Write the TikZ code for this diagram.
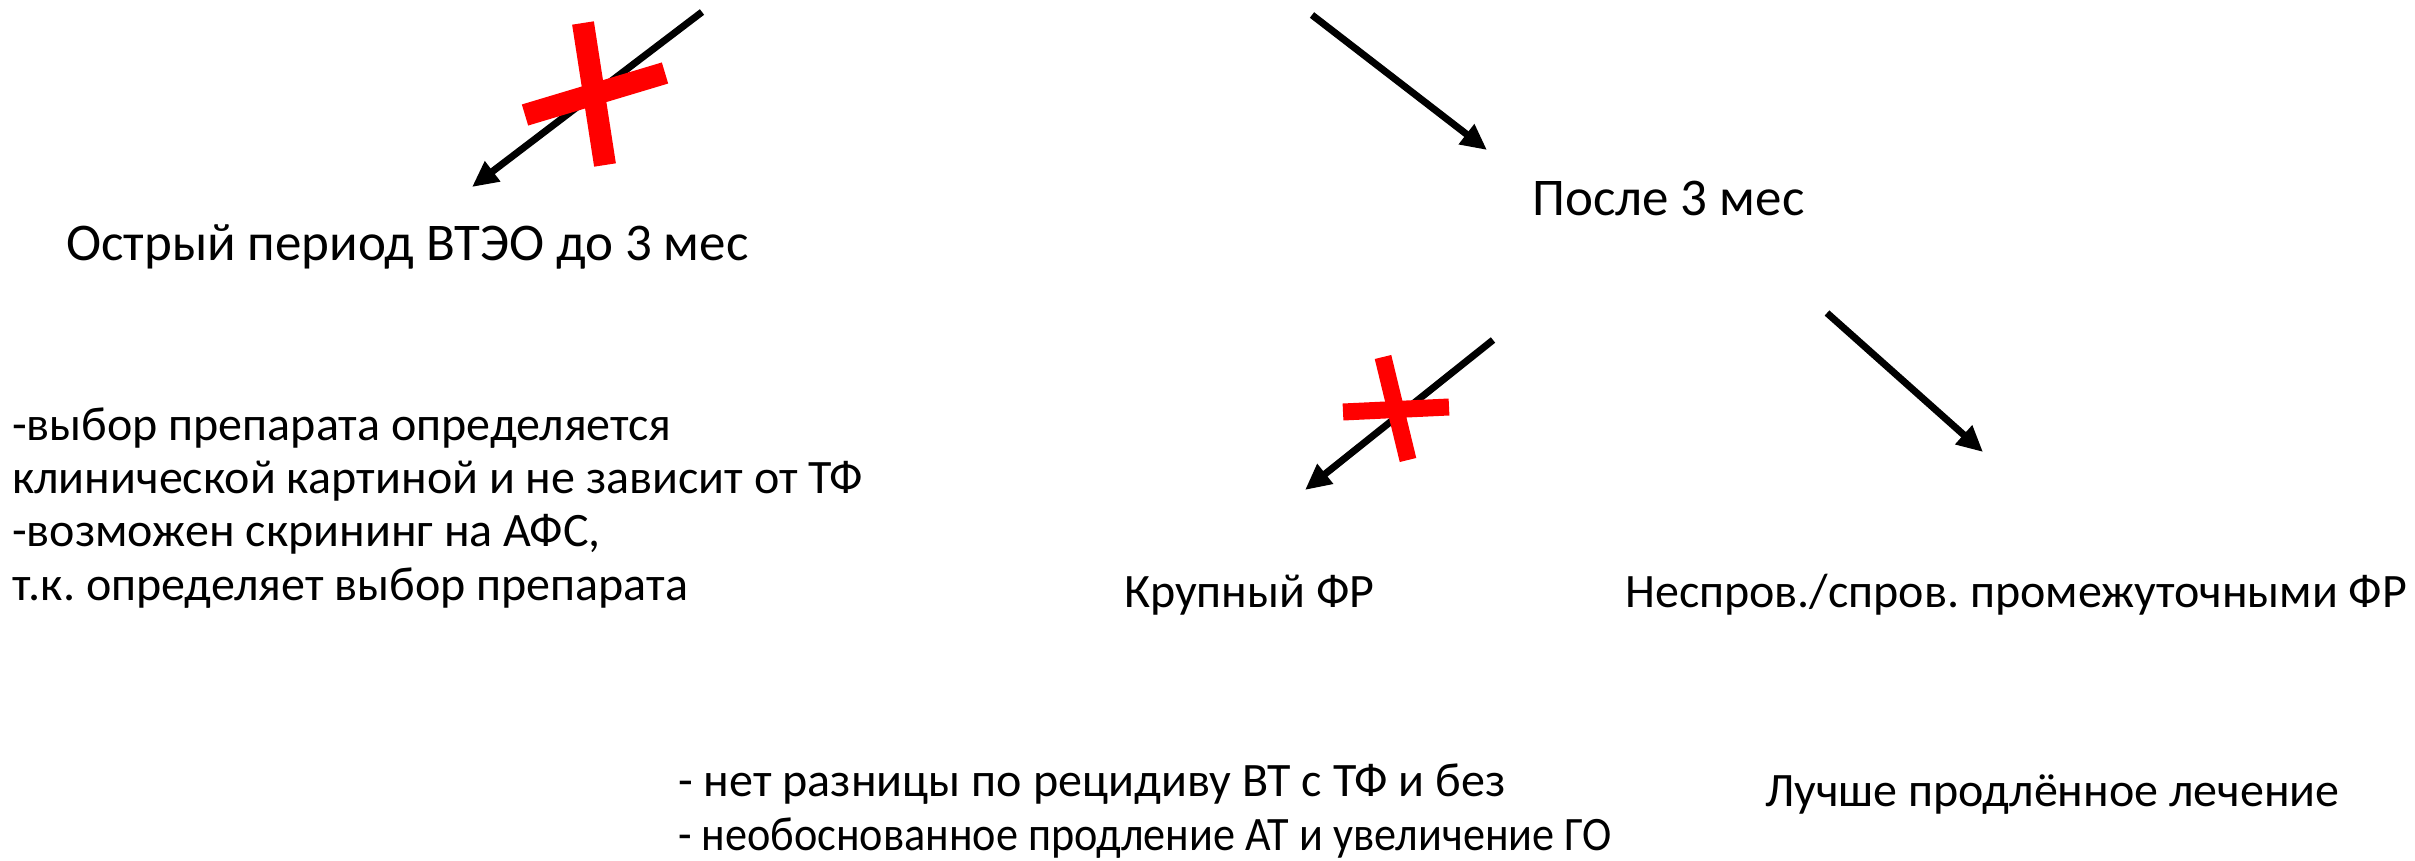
\documentclass[tikz,border=0pt]{standalone}
\usepackage{graphicx}
\usepackage{fontspec}
\setmainfont{Carlito}
\usetikzlibrary{arrows.meta}
\newdimen\fitlen
\newcommand\fitto[2]{\settowidth\fitlen{#2}\scalebox{\fpeval{#1/\fitlen}}[1]{#2}}
\frenchspacing
\begin{document}
\begin{tikzpicture}[x=1pt,y=-1pt,
  arr/.style={line width=7pt,-{Triangle[length=26pt,width=24pt]}},
  xbar/.style={draw=red,line width=22pt},
  xbarthin/.style={draw=red,line width=17pt},
  ttl/.style={anchor=base west,inner sep=0pt,font=\fontsize{53}{62}\selectfont},
  txt/.style={anchor=base west,inner sep=0pt,font=\fontsize{48}{56}\selectfont}]
\useasboundingbox (0,0) rectangle (2415,861);
% texts
\node[ttl] (acute) at (66,260) {Острый период ВТЭО до 3 мес};
\node[ttl] (after) at (1532,215) {После 3 мес};
\node[txt] (left1) at (12,440) {-выбор препарата определяется};
\node[txt] (left2) at (12,493.4) {клинической картиной и не зависит от ТФ};
\node[txt] (left3) at (12,546.8) {-возможен скрининг на АФС,};
\node[txt] (left4) at (12,600.2) {т.к. определяет выбор препарата};
\node[txt] (major) at (1124,607) {Крупный ФР};
\node[txt] (minor) at (1625,607) {Неспров./спров. промежуточными ФР};
\node[txt] (noDiff) at (678,796) {\fitto{827}{- нет разницы по рецидиву ВТ с ТФ и без}};
\node[txt] (extend) at (678,850) {\fitto{933}{- необоснованное продление АТ и увеличение ГО}};
\node[txt] (better) at (1765,806) {Лучше продлённое лечение};
% arrow end points
\coordinate (a1s) at (702,12);  \coordinate (a1e) at (472,187);
\coordinate (a2s) at (1312,15); \coordinate (a2e) at (1487,150);
\coordinate (a3s) at (1493,340); \coordinate (a3e) at (1305,490);
\coordinate (a4s) at (1827,313); \coordinate (a4e) at (1983,452);
\draw[arr] (a1s) -- (a1e);
\draw[arr] (a2s) -- (a2e);
\draw[arr] (a3s) -- (a3e);
\draw[arr] (a4s) -- (a4e);
% red crosses
\coordinate (c1t) at (583,23); \coordinate (c1b) at (605,165);
\coordinate (c1l) at (525,115); \coordinate (c1r) at (665,73);
\draw[xbar] (c1t) -- (c1b);
\draw[xbar] (c1l) -- (c1r);
\coordinate (c2t) at (1383,357); \coordinate (c2b) at (1408,460);
\coordinate (c2l) at (1343,412); \coordinate (c2r) at (1449,407);
\draw[xbarthin] (c2t) -- (c2b);
\draw[xbarthin] (c2l) -- (c2r);
\end{tikzpicture}
\end{document}
